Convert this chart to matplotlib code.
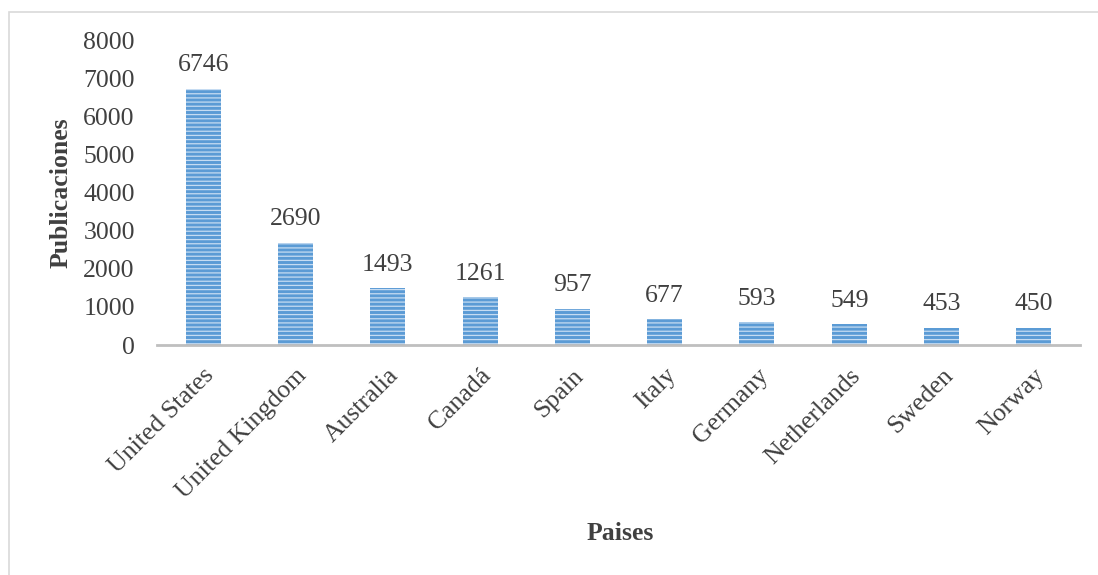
import matplotlib.pyplot as plt
from matplotlib.patches import Rectangle

# Data
paises = ["United States", "United Kingdom", "Australia", "Canadá", "Spain",
          "Italy", "Germany", "Netherlands", "Sweden", "Norway"]
publicaciones = [6746, 2690, 1493, 1261, 957, 677, 593, 549, 453, 450]
yticks = [0, 1000, 2000, 3000, 4000, 5000, 6000, 7000, 8000]

plt.rcParams['font.family'] = ['Liberation Serif', 'DejaVu Serif']
plt.rcParams['hatch.color'] = '#c6dcf2'
plt.rcParams['hatch.linewidth'] = 0.9

text_color = '#404040'
fs = 18.5

fig = plt.figure(figsize=(10.98, 5.75), dpi=100)
ax = fig.add_axes([157 / 1098, 0.40, (1080 - 157) / 1098, 0.529])

x = range(len(paises))
ax.bar(x, publicaciones, width=0.38, color='#5b9bd5', hatch='----',
       edgecolor='#c6dcf2', linewidth=0)

for xi, v in zip(x, publicaciones):
    ax.text(xi, v + 330, str(v), ha='center', va='bottom', fontsize=fs, color=text_color)

ax.set_ylim(0, 8000)
ax.set_xlim(-0.5, 9.5)
ax.set_yticks(yticks)
ax.set_yticklabels([str(t) for t in yticks], fontsize=fs, color=text_color)
ax.set_xticks(list(x))
ax.set_xticklabels(paises, rotation=45, ha='right', rotation_mode='anchor',
                   fontsize=fs, color=text_color)
ax.tick_params(axis='x', length=0, pad=14)
ax.tick_params(axis='y', length=0, pad=16)

for s in ['top', 'right', 'left']:
    ax.spines[s].set_visible(False)
ax.spines['bottom'].set_color('#bfbfbf')
ax.spines['bottom'].set_linewidth(2)

ax.set_ylabel("Publicaciones", fontsize=fs, fontweight='bold', color=text_color, labelpad=8)
fig.text(0.565, 0.073, "Paises", ha='center', va='center', fontsize=fs,
         fontweight='bold', color=text_color)

# light chart border
fig.patches.append(Rectangle((0.008, -0.1), 1.2, 1.079, transform=fig.transFigure,
                             fill=False, edgecolor='#d9d9d9', linewidth=1.2))

fig.savefig("out.png", dpi=100)
